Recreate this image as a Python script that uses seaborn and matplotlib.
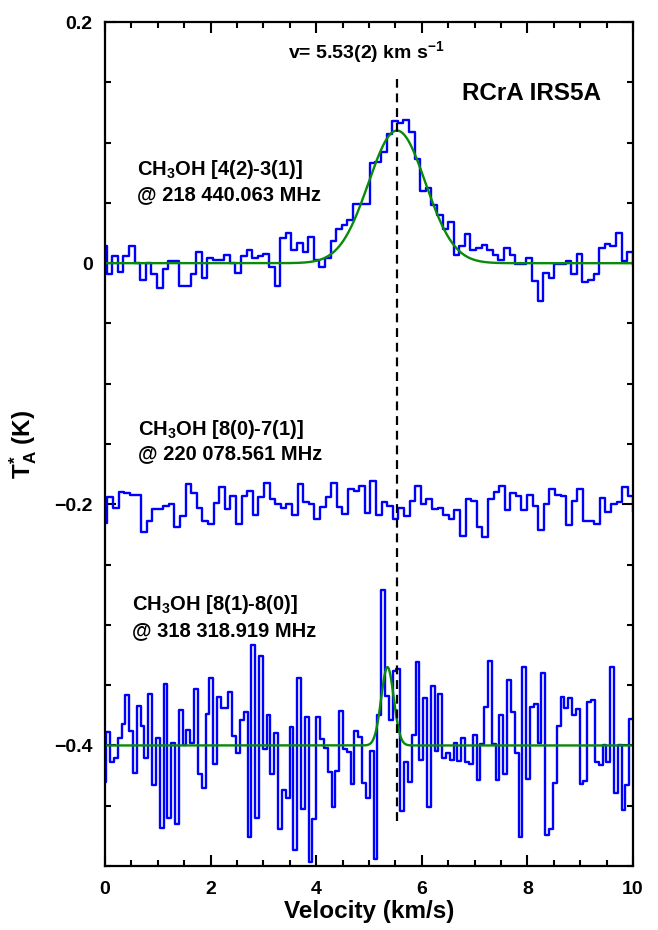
import numpy as np
import pandas as pd
import matplotlib
matplotlib.use("Agg")
import matplotlib.pyplot as plt
import seaborn as sns
from matplotlib.ticker import MultipleLocator, FixedLocator, FixedFormatter

# ---------------------------------------------------------------------------
# Spectra (antenna temperature in K per velocity channel)
# ---------------------------------------------------------------------------
# CH3OH 4(2)-3(1) @ 218 440.063 MHz
top_v0 = -0.074
top_dv = 0.106
top_ta = [
    0.014, -0.009, 0.006, -0.007, 0.006, 0.014, 0.000, -0.014, 0.000, -0.009,
    -0.021, -0.005, 0.002, 0.002, -0.019, -0.019, -0.009, 0.009, -0.012, 0.004,
    0.003, 0.003, 0.007, 0.000, -0.008, 0.006, 0.011, 0.004, 0.006, 0.008,
    -0.003, -0.019, 0.021, 0.025, 0.011, 0.017, 0.009, 0.022, 0.003, -0.003,
    0.004, 0.018, 0.028, 0.032, 0.036, 0.049, 0.049, 0.049, 0.083, 0.084,
    0.092, 0.107, 0.118, 0.116, 0.119, 0.109, 0.086, 0.060, 0.062, 0.048,
    0.040, 0.028, 0.034, 0.007, 0.014, 0.024, 0.011, 0.013, 0.015, 0.011,
    0.007, 0.003, 0.013, 0.007, -0.001, -0.001, 0.004, -0.015, -0.031, -0.008,
    -0.012, -0.001, -0.001, 0.002, -0.009, 0.008, -0.016, -0.014, -0.009, 0.013,
    0.016, 0.014, 0.025, 0.002, 0.009, -0.002,
]

# CH3OH 8(0)-7(1) @ 220 078.561 MHz (offset by -0.2 K)
mid_v0 = -0.062
mid_dv = 0.106
mid_ta = [
    -0.2153, -0.1936, -0.2033, -0.1900, -0.1910, -0.1920, -0.1920, -0.2230, -0.2140, -0.2040,
    -0.2040, -0.2010, -0.2000, -0.2190, -0.2100, -0.1830, -0.1910, -0.2030, -0.2140, -0.2160,
    -0.1990, -0.1860, -0.2040, -0.1930, -0.2160, -0.1930, -0.1890, -0.2090, -0.1940, -0.1820,
    -0.1960, -0.2000, -0.2030, -0.2000, -0.2090, -0.1830, -0.1980, -0.2000, -0.2120, -0.2020,
    -0.1940, -0.1825, -0.2020, -0.2080, -0.1875, -0.1890, -0.1845, -0.2070, -0.1810, -0.2090,
    -0.1980, -0.2010, -0.2120, -0.2030, -0.2100, -0.1970, -0.1850, -0.2000, -0.1960, -0.2040,
    -0.2030, -0.2090, -0.2120, -0.2050, -0.2260, -0.1960, -0.1970, -0.2190, -0.2275, -0.1960,
    -0.1900, -0.1850, -0.2050, -0.1910, -0.1930, -0.2050, -0.1920, -0.2010, -0.2210, -0.2000,
    -0.1875, -0.1920, -0.1930, -0.2170, -0.1970, -0.1875, -0.2140, -0.2140, -0.2160, -0.1950,
    -0.2060, -0.2000, -0.1980, -0.1860, -0.1930, -0.2060,
]

# CH3OH 8(1)-8(0) @ 318 318.919 MHz (offset by -0.4 K)
bot_v0 = -0.048
bot_dv = 0.0723
bot_ta = [
    -0.4306, -0.3890, -0.4140, -0.4100, -0.3940, -0.3820, -0.3580, -0.3880, -0.4230, -0.3675,
    -0.3840, -0.4105, -0.3575, -0.4330, -0.3940, -0.4686, -0.3494, -0.4600, -0.3980, -0.4650,
    -0.3710, -0.3994, -0.3875, -0.3980, -0.3530, -0.4236, -0.4350, -0.3740, -0.3440, -0.4150,
    -0.3600, -0.3690, -0.3690, -0.3556, -0.3925, -0.4060, -0.3790, -0.3720, -0.4760, -0.3167,
    -0.4600, -0.3260, -0.4030, -0.3744, -0.4236, -0.3900, -0.4690, -0.4370, -0.4440, -0.3847,
    -0.4870, -0.3444, -0.4528, -0.3764, -0.4964, -0.4606, -0.3764, -0.3950, -0.4020, -0.4220,
    -0.4510, -0.4210, -0.3714, -0.4030, -0.4056, -0.4320, -0.3880, -0.3930, -0.4310, -0.4436,
    -0.4047, -0.4940, -0.3750, -0.2708, -0.3590, -0.3790, -0.3380, -0.3370, -0.4547, -0.4140,
    -0.4306, -0.3917, -0.3306, -0.4117, -0.3610, -0.4514, -0.3506, -0.4047, -0.3575, -0.4106,
    -0.4060, -0.4117, -0.3980, -0.4130, -0.3940, -0.4140, -0.4150, -0.3910, -0.4286, -0.3990,
    -0.3680, -0.3297, -0.3986, -0.4290, -0.3750, -0.4236, -0.3458, -0.3720, -0.4060, -0.4756,
    -0.3347, -0.4280, -0.3680, -0.3660, -0.3980, -0.3397, -0.4740, -0.4690, -0.4310, -0.3840,
    -0.3600, -0.3686, -0.3610, -0.3750, -0.3700, -0.4320, -0.4297, -0.3640, -0.3625, -0.4140,
    -0.4160, -0.4000, -0.4140, -0.3347, -0.4397, -0.3994, -0.4536, -0.4330, -0.3780,
]

# Gaussian fits: baseline, amplitude (K), centre (km/s), FWHM (km/s)
top_fit = dict(base=0.0, amp=0.110, center=5.53, fwhm=1.27)
bot_fit = dict(base=-0.4, amp=0.065, center=5.35, fwhm=0.28)

# Systemic velocity
v_sys = 5.53
v_sys_label = r"v= 5.53(2) km s$^{-1}$"
v_sys_span = (-0.463, 0.153)

# Transition labels
line_labels = [
    (r"CH$_3$OH [4(2)-3(1)]", "@ 218 440.063 MHz", 0.60, 0.0733, 0.0522),
    (r"CH$_3$OH [8(0)-7(1)]", "@ 220 078.561 MHz", 0.63, -0.1428, -0.1628),
    (r"CH$_3$OH [8(1)-8(0)]", "@ 318 318.919 MHz", 0.52, -0.2880, -0.3094),
]
source_name = "RCrA IRS5A"

x_ticks = [0, 2, 4, 6, 8, 10]
y_ticks = [-0.4, -0.2, 0.0, 0.2]
y_tick_labels = ["\u22120.4", "\u22120.2", "0", "0.2"]

# ---------------------------------------------------------------------------
sns.set_theme(style="ticks")
plt.rcParams["font.family"] = ["Liberation Sans", "DejaVu Sans"]
plt.rcParams["font.weight"] = "bold"
plt.rcParams["mathtext.fontset"] = "custom"
plt.rcParams["mathtext.rm"] = "Liberation Sans:bold"
plt.rcParams["mathtext.bf"] = "Liberation Sans:bold"
plt.rcParams["mathtext.it"] = "Liberation Sans:bold"
plt.rcParams["mathtext.default"] = "bf"
for key in ("text.color", "axes.labelcolor", "xtick.color", "ytick.color",
            "axes.edgecolor"):
    plt.rcParams[key] = "black"

BLUE = "#0000ff"
GREEN = "#0a8a0a"

fig = plt.figure(figsize=(6.58, 9.30), dpi=100)
ax = fig.add_axes([0.1596, 0.0688, 0.8024, 0.9075])


def spectrum_frame(v0, dv, values):
    edges = v0 + dv * np.arange(len(values) + 1)
    return pd.DataFrame({"v": edges, "ta": list(values) + [values[-1]]})


def gaussian_frame(fit):
    v = np.linspace(0, 10, 1201)
    ta = fit["base"] + fit["amp"] * np.exp(
        -4 * np.log(2) * (v - fit["center"]) ** 2 / fit["fwhm"] ** 2)
    return pd.DataFrame({"v": v, "ta": ta})


for v0, dv, vals in [(top_v0, top_dv, top_ta), (mid_v0, mid_dv, mid_ta),
                     (bot_v0, bot_dv, bot_ta)]:
    sns.lineplot(data=spectrum_frame(v0, dv, vals), x="v", y="ta", ax=ax,
                 drawstyle="steps-post", color=BLUE, lw=1.7,
                 estimator=None, sort=False)

for fit in (top_fit, bot_fit):
    sns.lineplot(data=gaussian_frame(fit), x="v", y="ta", ax=ax,
                 color=GREEN, lw=1.7, estimator=None, sort=False)

ax.vlines(v_sys, *v_sys_span, colors="black", lw=1.6,
          linestyles=(0, (4, 2.6)))

ax.set_xlim(0, 10)
ax.set_ylim(-0.5, 0.2)

ax.xaxis.set_major_locator(FixedLocator(x_ticks))
ax.xaxis.set_minor_locator(MultipleLocator(0.5))
ax.yaxis.set_major_locator(FixedLocator(y_ticks))
ax.yaxis.set_major_formatter(FixedFormatter(y_tick_labels))
ax.yaxis.set_minor_locator(MultipleLocator(0.05))
ax.xaxis.set_ticks_position("both")
ax.yaxis.set_ticks_position("both")

ax.tick_params(which="both", direction="in", top=True, right=True,
               bottom=True, left=True, color="black", width=1.5)
ax.tick_params(which="major", length=8, labelsize=14, labelcolor="black")
ax.tick_params(which="minor", length=4.5)
ax.tick_params(axis="x", which="major", pad=11)
ax.tick_params(axis="y", which="major", pad=9)
for lab in ax.get_xticklabels() + ax.get_yticklabels():
    lab.set_fontweight("bold")

for sp in ax.spines.values():
    sp.set_visible(True)
    sp.set_color("black")
    sp.set_linewidth(1.6)

ax.set_xlabel("Velocity (km/s)", fontsize=17.5, fontweight="bold", color="black")
ax.set_ylabel(r"T$^{*}_{A}$ (K)", fontsize=17.5, fontweight="bold", color="black")
ax.xaxis.set_label_coords(0.5, -0.040)
ax.yaxis.set_label_coords(-0.125, 0.5)

for l1, l2, x, y1, y2 in line_labels:
    ax.text(x, y1, l1, fontsize=14.5, fontweight="bold", ha="left",
            va="baseline", color="black")
    ax.text(x, y2, l2, fontsize=14.5, fontweight="bold", ha="left",
            va="baseline", color="black")

ax.text(3.47, 0.1697, v_sys_label, fontsize=14, fontweight="bold",
        ha="left", va="baseline", color="black")
ax.text(6.76, 0.135, source_name, fontsize=17.5, fontweight="bold",
        ha="left", va="baseline", color="black")

fig.savefig("out.png", dpi=100)
